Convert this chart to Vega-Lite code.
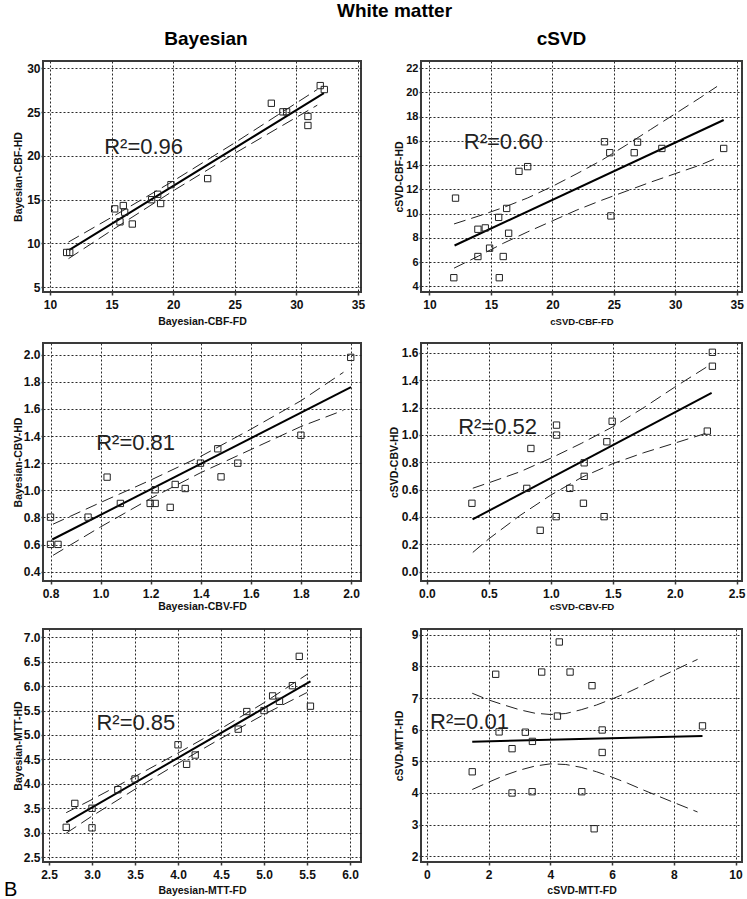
{
"$schema": "https://vega.github.io/schema/vega-lite/v6.json",
"background": "white",
"padding": {"left": 3, "top": 2, "right": 0, "bottom": 0},
"title": {"text": "White matter", "fontSize": 19, "fontWeight": "bold", "anchor": "middle", "dx": 20, "offset": 8},
"columns": 2,
"align": "each",
"spacing": {"row": 14, "column": 22},
"datasets": {
"b_cbf": [
{"x":11.35,"y":8.95,"k":"pt"},{"x":11.6,"y":8.95,"k":"pt"},{"x":15.25,"y":13.93,"k":"pt"},{"x":15.95,"y":14.31,"k":"pt"},{"x":16.06,"y":13.55,"k":"pt"},{"x":15.68,"y":12.45,"k":"pt"},{"x":16.68,"y":12.2,"k":"pt"},{"x":18.25,"y":14.98,"k":"pt"},{"x":18.74,"y":15.6,"k":"pt"},{"x":18.98,"y":14.54,"k":"pt"},{"x":19.82,"y":16.7,"k":"pt"},{"x":22.8,"y":17.39,"k":"pt"},{"x":27.97,"y":26.0,"k":"pt"},{"x":28.91,"y":25.02,"k":"pt"},{"x":29.21,"y":25.02,"k":"pt"},{"x":30.94,"y":24.49,"k":"pt"},{"x":30.94,"y":23.46,"k":"pt"},{"x":31.94,"y":28.02,"k":"pt"},{"x":32.27,"y":27.57,"k":"pt"},
{"x":11.54,"y":9.22,"k":"fit"},{"x":32.24,"y":27.15,"k":"fit"},
{"x":11.5,"y":10.14,"k":"upper"},{"x":15,"y":12.97,"k":"upper"},{"x":20,"y":17.11,"k":"upper"},{"x":25,"y":21.48,"k":"upper"},{"x":30,"y":26.03,"k":"upper"},{"x":31.7,"y":27.58,"k":"upper"},
{"x":11.5,"y":8.24,"k":"lower"},{"x":15,"y":11.47,"k":"lower"},{"x":20,"y":15.99,"k":"lower"},{"x":25,"y":20.28,"k":"lower"},{"x":30,"y":24.39,"k":"lower"},{"x":31.7,"y":25.78,"k":"lower"},
{"x":17.6,"y":20.95,"k":"lab","t":"R²=0.96"}
],
"c_cbf": [
{"x":11.98,"y":4.71,"k":"pt"},{"x":12.12,"y":11.28,"k":"pt"},{"x":13.94,"y":8.71,"k":"pt"},{"x":13.94,"y":6.46,"k":"pt"},{"x":14.54,"y":8.82,"k":"pt"},{"x":14.89,"y":7.15,"k":"pt"},{"x":15.63,"y":9.69,"k":"pt"},{"x":15.68,"y":4.71,"k":"pt"},{"x":16.0,"y":6.46,"k":"pt"},{"x":16.28,"y":10.43,"k":"pt"},{"x":16.44,"y":8.38,"k":"pt"},{"x":17.28,"y":13.49,"k":"pt"},{"x":17.99,"y":13.88,"k":"pt"},{"x":24.24,"y":15.93,"k":"pt"},{"x":24.67,"y":15.03,"k":"pt"},{"x":24.76,"y":9.81,"k":"pt"},{"x":26.66,"y":15.03,"k":"pt"},{"x":26.93,"y":15.9,"k":"pt"},{"x":28.91,"y":15.38,"k":"pt"},{"x":33.94,"y":15.38,"k":"pt"},
{"x":12.04,"y":7.37,"k":"fit"},{"x":33.94,"y":17.73,"k":"fit"},
{"x":12.0,"y":9.15,"k":"upper"},{"x":14,"y":9.8,"k":"upper"},{"x":16,"y":10.5,"k":"upper"},{"x":18,"y":11.3,"k":"upper"},{"x":20,"y":12.25,"k":"upper"},{"x":22,"y":13.3,"k":"upper"},{"x":24,"y":14.4,"k":"upper"},{"x":26,"y":15.65,"k":"upper"},{"x":28,"y":16.95,"k":"upper"},{"x":30,"y":18.25,"k":"upper"},{"x":32,"y":19.55,"k":"upper"},{"x":33.4,"y":20.5,"k":"upper"},
{"x":12.0,"y":5.5,"k":"lower"},{"x":14,"y":6.5,"k":"lower"},{"x":16,"y":7.55,"k":"lower"},{"x":18,"y":8.5,"k":"lower"},{"x":20,"y":9.4,"k":"lower"},{"x":22,"y":10.3,"k":"lower"},{"x":24,"y":11.1,"k":"lower"},{"x":26,"y":11.85,"k":"lower"},{"x":28,"y":12.6,"k":"lower"},{"x":30,"y":13.3,"k":"lower"},{"x":32,"y":14.0,"k":"lower"},{"x":33.4,"y":14.6,"k":"lower"},
{"x":16.0,"y":15.95,"k":"lab","t":"R²=0.60"}
],
"b_cbv": [
{"x":0.8,"y":0.802,"k":"pt"},{"x":0.8,"y":0.601,"k":"pt"},{"x":0.83,"y":0.601,"k":"pt"},{"x":0.95,"y":0.802,"k":"pt"},{"x":1.026,"y":1.097,"k":"pt"},{"x":1.079,"y":0.903,"k":"pt"},{"x":1.198,"y":0.903,"k":"pt"},{"x":1.218,"y":0.903,"k":"pt"},{"x":1.218,"y":1.004,"k":"pt"},{"x":1.278,"y":0.874,"k":"pt"},{"x":1.298,"y":1.043,"k":"pt"},{"x":1.338,"y":1.013,"k":"pt"},{"x":1.399,"y":1.2,"k":"pt"},{"x":1.468,"y":1.306,"k":"pt"},{"x":1.481,"y":1.099,"k":"pt"},{"x":1.548,"y":1.2,"k":"pt"},{"x":1.8,"y":1.406,"k":"pt"},{"x":1.999,"y":1.98,"k":"pt"},
{"x":0.807,"y":0.637,"k":"fit"},{"x":2.0,"y":1.76,"k":"fit"},
{"x":0.81,"y":0.75,"k":"upper"},{"x":1.0,"y":0.91,"k":"upper"},{"x":1.2,"y":1.075,"k":"upper"},{"x":1.4,"y":1.25,"k":"upper"},{"x":1.6,"y":1.45,"k":"upper"},{"x":1.8,"y":1.66,"k":"upper"},{"x":1.97,"y":1.87,"k":"upper"},
{"x":0.81,"y":0.52,"k":"lower"},{"x":1.0,"y":0.73,"k":"lower"},{"x":1.2,"y":0.94,"k":"lower"},{"x":1.4,"y":1.13,"k":"lower"},{"x":1.6,"y":1.3,"k":"lower"},{"x":1.8,"y":1.47,"k":"lower"},{"x":1.97,"y":1.59,"k":"lower"},
{"x":1.14,"y":1.35,"k":"lab","t":"R²=0.81"}
],
"c_cbv": [
{"x":0.363,"y":0.5,"k":"pt"},{"x":0.839,"y":0.901,"k":"pt"},{"x":0.806,"y":0.609,"k":"pt"},{"x":0.914,"y":0.302,"k":"pt"},{"x":1.046,"y":1.072,"k":"pt"},{"x":1.046,"y":0.999,"k":"pt"},{"x":1.043,"y":0.402,"k":"pt"},{"x":1.153,"y":0.609,"k":"pt"},{"x":1.263,"y":0.5,"k":"pt"},{"x":1.269,"y":0.796,"k":"pt"},{"x":1.269,"y":0.697,"k":"pt"},{"x":1.43,"y":0.402,"k":"pt"},{"x":1.452,"y":0.95,"k":"pt"},{"x":1.495,"y":1.1,"k":"pt"},{"x":2.263,"y":1.028,"k":"pt"},{"x":2.304,"y":1.605,"k":"pt"},{"x":2.304,"y":1.503,"k":"pt"},
{"x":0.368,"y":0.382,"k":"fit"},{"x":2.298,"y":1.308,"k":"fit"},
{"x":0.37,"y":0.61,"k":"upper"},{"x":0.5,"y":0.65,"k":"upper"},{"x":0.75,"y":0.73,"k":"upper"},{"x":1.0,"y":0.83,"k":"upper"},{"x":1.25,"y":0.94,"k":"upper"},{"x":1.5,"y":1.06,"k":"upper"},{"x":1.75,"y":1.2,"k":"upper"},{"x":2.0,"y":1.35,"k":"upper"},{"x":2.28,"y":1.51,"k":"upper"},
{"x":0.37,"y":0.14,"k":"lower"},{"x":0.5,"y":0.24,"k":"lower"},{"x":0.75,"y":0.41,"k":"lower"},{"x":1.0,"y":0.56,"k":"lower"},{"x":1.25,"y":0.69,"k":"lower"},{"x":1.5,"y":0.79,"k":"lower"},{"x":1.75,"y":0.87,"k":"lower"},{"x":2.0,"y":0.94,"k":"lower"},{"x":2.28,"y":1.02,"k":"lower"},
{"x":0.57,"y":1.06,"k":"lab","t":"R²=0.52"}
],
"b_mtt": [
{"x":2.7,"y":3.11,"k":"pt"},{"x":2.8,"y":3.6,"k":"pt"},{"x":3.0,"y":3.5,"k":"pt"},{"x":3.0,"y":3.1,"k":"pt"},{"x":3.3,"y":3.88,"k":"pt"},{"x":3.5,"y":4.1,"k":"pt"},{"x":4.0,"y":4.8,"k":"pt"},{"x":4.1,"y":4.4,"k":"pt"},{"x":4.2,"y":4.59,"k":"pt"},{"x":4.7,"y":5.12,"k":"pt"},{"x":4.8,"y":5.48,"k":"pt"},{"x":5.0,"y":5.5,"k":"pt"},{"x":5.1,"y":5.8,"k":"pt"},{"x":5.18,"y":5.69,"k":"pt"},{"x":5.33,"y":6.01,"k":"pt"},{"x":5.41,"y":6.61,"k":"pt"},{"x":5.54,"y":5.59,"k":"pt"},
{"x":2.7,"y":3.21,"k":"fit"},{"x":5.54,"y":6.1,"k":"fit"},
{"x":2.7,"y":3.41,"k":"upper"},{"x":3.0,"y":3.68,"k":"upper"},{"x":3.5,"y":4.15,"k":"upper"},{"x":4.0,"y":4.63,"k":"upper"},{"x":4.5,"y":5.13,"k":"upper"},{"x":5.0,"y":5.66,"k":"upper"},{"x":5.5,"y":6.24,"k":"upper"},
{"x":2.7,"y":2.99,"k":"lower"},{"x":3.0,"y":3.34,"k":"lower"},{"x":3.5,"y":3.89,"k":"lower"},{"x":4.0,"y":4.42,"k":"lower"},{"x":4.5,"y":4.93,"k":"lower"},{"x":5.0,"y":5.42,"k":"lower"},{"x":5.5,"y":5.87,"k":"lower"},
{"x":3.51,"y":5.25,"k":"lab","t":"R²=0.85"}
],
"c_mtt": [
{"x":1.47,"y":4.67,"k":"pt"},{"x":2.23,"y":7.75,"k":"pt"},{"x":2.34,"y":5.93,"k":"pt"},{"x":2.76,"y":5.4,"k":"pt"},{"x":2.76,"y":4.0,"k":"pt"},{"x":3.19,"y":5.92,"k":"pt"},{"x":3.42,"y":5.63,"k":"pt"},{"x":3.41,"y":4.04,"k":"pt"},{"x":3.72,"y":7.82,"k":"pt"},{"x":4.29,"y":8.77,"k":"pt"},{"x":4.23,"y":6.43,"k":"pt"},{"x":4.64,"y":7.82,"k":"pt"},{"x":5.02,"y":4.04,"k":"pt"},{"x":5.35,"y":7.39,"k":"pt"},{"x":5.42,"y":2.87,"k":"pt"},{"x":5.68,"y":5.99,"k":"pt"},{"x":5.68,"y":5.28,"k":"pt"},{"x":8.93,"y":6.12,"k":"pt"},
{"x":1.47,"y":5.62,"k":"fit"},{"x":8.93,"y":5.8,"k":"fit"},
{"x":1.47,"y":7.15,"k":"upper"},{"x":2.0,"y":6.94,"k":"upper"},{"x":2.5,"y":6.78,"k":"upper"},{"x":3.0,"y":6.63,"k":"upper"},{"x":3.5,"y":6.52,"k":"upper"},{"x":4.0,"y":6.48,"k":"upper"},{"x":4.5,"y":6.51,"k":"upper"},{"x":5.0,"y":6.63,"k":"upper"},{"x":5.5,"y":6.78,"k":"upper"},{"x":6.0,"y":6.97,"k":"upper"},{"x":6.5,"y":7.17,"k":"upper"},{"x":7.0,"y":7.4,"k":"upper"},{"x":7.5,"y":7.64,"k":"upper"},{"x":8.0,"y":7.87,"k":"upper"},{"x":8.77,"y":8.22,"k":"upper"},
{"x":1.47,"y":4.11,"k":"lower"},{"x":2.0,"y":4.34,"k":"lower"},{"x":2.5,"y":4.55,"k":"lower"},{"x":3.0,"y":4.72,"k":"lower"},{"x":3.5,"y":4.85,"k":"lower"},{"x":4.0,"y":4.92,"k":"lower"},{"x":4.5,"y":4.9,"k":"lower"},{"x":5.0,"y":4.81,"k":"lower"},{"x":5.5,"y":4.67,"k":"lower"},{"x":6.0,"y":4.5,"k":"lower"},{"x":6.5,"y":4.31,"k":"lower"},{"x":7.0,"y":4.1,"k":"lower"},{"x":7.5,"y":3.9,"k":"lower"},{"x":8.0,"y":3.7,"k":"lower"},{"x":8.77,"y":3.4,"k":"lower"},
{"x":1.38,"y":6.24,"k":"lab","t":"R²=0.01"}
]
},
"concat": [
{
"width": 318, "height": 231,
"title": {"text": "Bayesian", "anchor": "middle", "frame": "group", "dx": 4, "offset": 12},
"data": {"name": "b_cbf"},
"encoding": {
"x": {"field": "x", "type": "quantitative", "scale": {"domain": [9.43, 35.25], "nice": false, "zero": false}, "axis": {"values": [10,15,20,25,30,35], "title": "Bayesian-CBF-FD", "titlePadding": 6}},
"y": {"field": "y", "type": "quantitative", "scale": {"domain": [4.43, 30.83], "nice": false, "zero": false}, "axis": {"values": [5,10,15,20,25,30], "title": "Bayesian-CBF-HD"}}
},
"layer": [
{"transform": [{"filter": "datum.k === 'upper' || datum.k === 'lower'"}], "mark": {"type": "line", "color": "#222", "strokeWidth": 1, "strokeDash": [12, 6]}, "encoding": {"detail": {"field": "k"}}},
{"transform": [{"filter": "datum.k === 'fit'"}], "mark": {"type": "line", "color": "#000", "strokeWidth": 2}, "encoding": {}},
{"transform": [{"filter": "datum.k === 'pt'"}], "mark": {"type": "point", "shape": "square", "filled": false, "size": 40, "stroke": "#222", "strokeWidth": 1, "opacity": 1}, "encoding": {}},
{"transform": [{"filter": "datum.k === 'lab'"}], "mark": {"type": "text", "fontSize": 22, "font": "Liberation Sans", "color": "#222", "align": "center", "baseline": "middle"}, "encoding": {"text": {"field": "t"}}}
]
},
{
"width": 321, "height": 231,
"title": {"text": "cSVD", "anchor": "middle", "frame": "group", "dx": -20, "offset": 12},
"data": {"name": "c_cbf"},
"encoding": {
"x": {"field": "x", "type": "quantitative", "scale": {"domain": [9.31, 35.43], "nice": false, "zero": false}, "axis": {"values": [10,15,20,25,30,35], "title": "cSVD-CBF-FD", "titlePadding": 6, "titleFontSize": 9.5}},
"y": {"field": "y", "type": "quantitative", "scale": {"domain": [3.53, 22.6], "nice": false, "zero": false}, "axis": {"values": [4,6,8,10,12,14,16,18,20,22], "title": "cSVD-CBF-HD", "labelFontSize": 11, "minExtent": 15, "maxExtent": 15}}
},
"layer": [
{"transform": [{"filter": "datum.k === 'upper' || datum.k === 'lower'"}], "mark": {"type": "line", "color": "#222", "strokeWidth": 1, "strokeDash": [12, 6]}, "encoding": {"detail": {"field": "k"}}},
{"transform": [{"filter": "datum.k === 'fit'"}], "mark": {"type": "line", "color": "#000", "strokeWidth": 2}, "encoding": {}},
{"transform": [{"filter": "datum.k === 'pt'"}], "mark": {"type": "point", "shape": "square", "filled": false, "size": 40, "stroke": "#222", "strokeWidth": 1, "opacity": 1}, "encoding": {}},
{"transform": [{"filter": "datum.k === 'lab'"}], "mark": {"type": "text", "fontSize": 22, "font": "Liberation Sans", "color": "#222", "align": "center", "baseline": "middle"}, "encoding": {"text": {"field": "t"}}}
]
},
{
"width": 318, "height": 238,
"data": {"name": "b_cbv"},
"encoding": {
"x": {"field": "x", "type": "quantitative", "scale": {"domain": [0.77, 2.04], "nice": false, "zero": false}, "axis": {"values": [0.8,1.0,1.2,1.4,1.6,1.8,2.0], "format": ".1f", "title": "Bayesian-CBV-FD", "titlePadding": 2}},
"y": {"field": "y", "type": "quantitative", "scale": {"domain": [0.331, 2.086], "nice": false, "zero": false}, "axis": {"values": [0.4,0.6,0.8,1.0,1.2,1.4,1.6,1.8,2.0], "format": ".1f", "title": "Bayesian-CBV-HD"}}
},
"layer": [
{"transform": [{"filter": "datum.k === 'upper' || datum.k === 'lower'"}], "mark": {"type": "line", "color": "#222", "strokeWidth": 1, "strokeDash": [12, 6]}, "encoding": {"detail": {"field": "k"}}},
{"transform": [{"filter": "datum.k === 'fit'"}], "mark": {"type": "line", "color": "#000", "strokeWidth": 2}, "encoding": {}},
{"transform": [{"filter": "datum.k === 'pt'"}], "mark": {"type": "point", "shape": "square", "filled": false, "size": 40, "stroke": "#222", "strokeWidth": 1, "opacity": 1}, "encoding": {}},
{"transform": [{"filter": "datum.k === 'lab'"}], "mark": {"type": "text", "fontSize": 22, "font": "Liberation Sans", "color": "#222", "align": "center", "baseline": "middle"}, "encoding": {"text": {"field": "t"}}}
]
},
{
"width": 321, "height": 238,
"data": {"name": "c_cbv"},
"encoding": {
"x": {"field": "x", "type": "quantitative", "scale": {"domain": [-0.048, 2.543], "nice": false, "zero": false}, "axis": {"values": [0.0,0.5,1.0,1.5,2.0,2.5], "format": ".1f", "title": "cSVD-CBV-FD", "titlePadding": 2, "titleFontSize": 9.7}},
"y": {"field": "y", "type": "quantitative", "scale": {"domain": [-0.069, 1.673], "nice": false, "zero": false}, "axis": {"values": [0.0,0.2,0.4,0.6,0.8,1.0,1.2,1.4,1.6], "format": ".1f", "title": "cSVD-CBV-HD", "minExtent": 20, "maxExtent": 20}}
},
"layer": [
{"transform": [{"filter": "datum.k === 'upper' || datum.k === 'lower'"}], "mark": {"type": "line", "color": "#222", "strokeWidth": 1, "strokeDash": [12, 6]}, "encoding": {"detail": {"field": "k"}}},
{"transform": [{"filter": "datum.k === 'fit'"}], "mark": {"type": "line", "color": "#000", "strokeWidth": 2}, "encoding": {}},
{"transform": [{"filter": "datum.k === 'pt'"}], "mark": {"type": "point", "shape": "square", "filled": false, "size": 40, "stroke": "#222", "strokeWidth": 1, "opacity": 1}, "encoding": {}},
{"transform": [{"filter": "datum.k === 'lab'"}], "mark": {"type": "text", "fontSize": 22, "font": "Liberation Sans", "color": "#222", "align": "center", "baseline": "middle"}, "encoding": {"text": {"field": "t"}}}
]
},
{
"width": 318, "height": 233,
"title": {"text": "B", "orient": "bottom", "anchor": "start", "frame": "bounds", "fontSize": 20, "fontWeight": "normal", "offset": -16, "dx": -9},
"data": {"name": "b_mtt"},
"encoding": {
"x": {"field": "x", "type": "quantitative", "scale": {"domain": [2.43, 6.128], "nice": false, "zero": false}, "axis": {"values": [2.5,3.0,3.5,4.0,4.5,5.0,5.5,6.0], "format": ".1f", "title": "Bayesian-MTT-FD", "titlePadding": 5}},
"y": {"field": "y", "type": "quantitative", "scale": {"domain": [2.4, 7.17], "nice": false, "zero": false}, "axis": {"values": [2.5,3.0,3.5,4.0,4.5,5.0,5.5,6.0,6.5,7.0], "format": ".1f", "title": "Bayesian-MTT-HD"}}
},
"layer": [
{"transform": [{"filter": "datum.k === 'upper' || datum.k === 'lower'"}], "mark": {"type": "line", "color": "#222", "strokeWidth": 1, "strokeDash": [12, 6]}, "encoding": {"detail": {"field": "k"}}},
{"transform": [{"filter": "datum.k === 'fit'"}], "mark": {"type": "line", "color": "#000", "strokeWidth": 2}, "encoding": {}},
{"transform": [{"filter": "datum.k === 'pt'"}], "mark": {"type": "point", "shape": "square", "filled": false, "size": 40, "stroke": "#222", "strokeWidth": 1, "opacity": 1}, "encoding": {}},
{"transform": [{"filter": "datum.k === 'lab'"}], "mark": {"type": "text", "fontSize": 22, "font": "Liberation Sans", "color": "#222", "align": "center", "baseline": "middle"}, "encoding": {"text": {"field": "t"}}}
]
},
{
"width": 321, "height": 233,
"data": {"name": "c_mtt"},
"encoding": {
"x": {"field": "x", "type": "quantitative", "scale": {"domain": [-0.19, 10.21], "nice": false, "zero": false}, "axis": {"values": [0,2,4,6,8,10], "title": "cSVD-MTT-FD", "titlePadding": 5}},
"y": {"field": "y", "type": "quantitative", "scale": {"domain": [1.82, 9.18], "nice": false, "zero": false}, "axis": {"values": [2,3,4,5,6,7,8,9], "title": "cSVD-MTT-HD", "minExtent": 15, "maxExtent": 15}}
},
"layer": [
{"transform": [{"filter": "datum.k === 'upper' || datum.k === 'lower'"}], "mark": {"type": "line", "color": "#222", "strokeWidth": 1, "strokeDash": [12, 6]}, "encoding": {"detail": {"field": "k"}}},
{"transform": [{"filter": "datum.k === 'fit'"}], "mark": {"type": "line", "color": "#000", "strokeWidth": 2}, "encoding": {}},
{"transform": [{"filter": "datum.k === 'pt'"}], "mark": {"type": "point", "shape": "square", "filled": false, "size": 40, "stroke": "#222", "strokeWidth": 1, "opacity": 1}, "encoding": {}},
{"transform": [{"filter": "datum.k === 'lab'"}], "mark": {"type": "text", "fontSize": 22, "font": "Liberation Sans", "color": "#222", "align": "center", "baseline": "middle"}, "encoding": {"text": {"field": "t"}}}
]
}
],
"config": {
"font": "Liberation Sans",
"view": {"stroke": "#3a3a3a", "strokeWidth": 2},
"axis": {"domain": false, "grid": true, "gridColor": "#2a2a2a", "gridDash": [2, 2], "gridWidth": 1, "tickColor": "#3a3a3a", "tickWidth": 1.5, "tickSize": 3, "labelFont": "Liberation Sans", "labelFontWeight": "bold", "labelFontSize": 12, "labelColor": "#111", "labelFlush": false, "labelOverlap": false, "labelBound": false, "titleFont": "Liberation Sans", "titleFontWeight": "bold", "titleFontSize": 10.5, "titleColor": "#111"},
"axisX": {"labelPadding": 4},
"axisY": {"labelPadding": 1, "tickSize": 2, "titlePadding": 2, "minExtent": 18, "maxExtent": 18},
"title": {"font": "Liberation Sans", "fontWeight": "bold", "fontSize": 19, "color": "#000"}
}
}
